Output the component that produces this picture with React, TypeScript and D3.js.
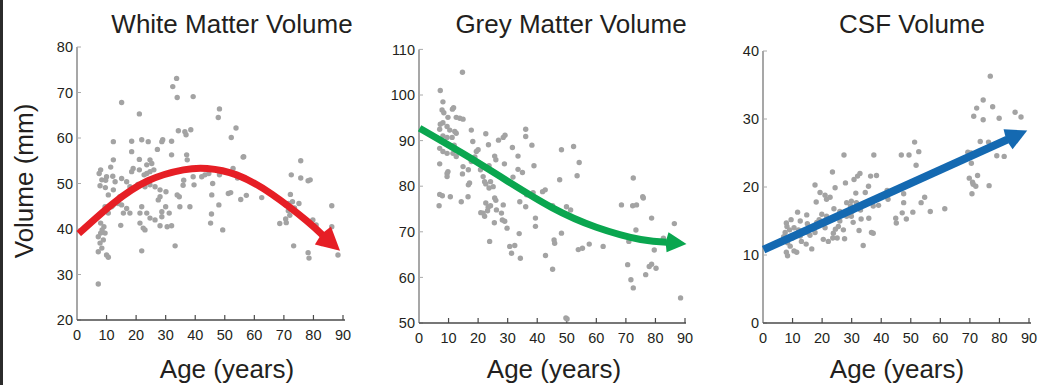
import React from "react";
import * as d3 from "d3";

const ageTicks = [0, 10, 20, 30, 40, 50, 60, 70, 80, 90];
const whiteTicks = [20, 30, 40, 50, 60, 70, 80];
const greyTicks = [50, 60, 70, 80, 90, 100, 110];
const csfTicks = [0, 10, 20, 30, 40];

const titles = ["White Matter Volume", "Grey Matter Volume", "CSF Volume"];
const xAxisTitle = "Age (years)";
const yAxisTitle = "Volume (mm)";

// [age, volume]
const whiteMatter: [number, number][] = [
  [15.1, 67.8], [21.1, 65.3], [12.3, 59.2], [18.5, 59.3], [21.9, 59.6], [24.1, 59.2],
  [29, 59.6], [28.7, 59.2], [32, 59.3], [12.3, 55.2], [18.5, 57], [21.1, 55.3],
  [24.7, 55.2], [25.3, 54.4], [23.6, 54.1], [27.2, 57.5], [8, 53], [7.5, 52.2],
  [8.4, 50.8], [7.8, 49.5], [11.4, 53.6], [10, 51.5], [12.1, 51.6], [12.9, 50.4],
  [15.1, 51.1], [19, 53.3], [18.5, 52.6], [21.1, 53], [22.7, 51.9], [23.6, 52.2],
  [24.7, 52.6], [26, 53], [16.8, 50.4], [17.9, 49.3], [19.3, 48.9], [23, 49.3],
  [24.7, 49.7], [26.4, 49.3], [28.1, 48.6], [30.1, 48.2], [28.1, 47.1], [27.5, 46.4],
  [14.5, 47.1], [12.3, 48.6], [10.6, 47.5], [9.5, 44.9], [11.7, 44.9], [10.6, 43.5],
  [15.1, 45.3], [16.8, 44.5], [15.7, 43.5], [17.9, 43.5], [21.9, 44.9], [21.3, 43.5],
  [23.6, 43.5], [24.7, 42.4], [26.4, 42], [28.7, 43.8], [28.7, 42.7], [31.2, 43.5],
  [21.3, 41.3], [22.4, 40.2], [23, 39.8], [28.1, 40.7], [30.5, 40.5], [32, 40.7],
  [34.6, 47.1], [33.9, 47.5], [34.8, 44.9], [38.2, 44.9], [33.2, 36.3], [21.9, 35.2],
  [14.8, 40.8], [7.2, 38.3], [8, 39.1], [8.9, 37.6], [9.5, 39.1], [7.2, 35],
  [8.4, 35.8], [7.8, 36.9], [10, 34.3], [10.6, 33.8], [7.2, 27.9], [8, 41.3],
  [9.1, 40.5], [8.5, 39.8], [39.3, 51.5], [39.6, 49.7], [42.2, 51.5], [43.3, 51.9],
  [45.6, 47.5], [45.2, 41.3], [45.5, 43.3], [45.9, 50], [37.1, 56.3], [37.3, 55.2],
  [34.3, 61.6], [36.5, 61.4], [36.9, 60.7], [38.5, 61.8], [32.4, 71.3], [33.7, 73.1],
  [33.9, 68.9], [39.3, 69.1], [32, 56.3], [44.6, 52.2], [35.9, 49.6], [36.1, 50.7],
  [20.6, 49.8], [9.6, 49.1], [9.7, 50.7], [13.9, 45.6], [12.2, 45.2], [30, 44.9],
  [48.2, 66.4], [47.8, 64.5], [53.8, 62.2], [52.2, 60.1], [56.2, 55.8], [75.7, 55],
  [48, 45.3], [49.3, 39.8], [48.2, 51.9], [51.2, 47.8], [52.8, 53.3], [54.3, 51.2],
  [57.3, 47.4], [55.4, 46.5], [62.5, 46.9], [68.6, 41.2], [70.6, 42.2], [70.8, 41.4],
  [70.6, 45.3], [71.5, 45.6], [72.9, 46], [72.2, 47.6], [72.5, 51.9], [73.6, 44.6],
  [75.1, 45.6], [75.7, 51.2], [78.2, 50.6], [78.9, 50.8], [73.3, 36.3], [78.2, 34.8],
  [78.5, 33.6], [79.8, 42], [80.9, 40.9], [82.8, 36.8], [86.2, 45.1], [86.2, 40.5],
  [88.3, 34.3], [56.4, 55.9], [52, 48], [71.5, 44], [72, 43],
];

const greyMatter: [number, number][] = [
  [14.7, 105], [7.2, 101], [8.1, 98.5], [7.8, 96.7], [8.4, 96.1], [11.3, 96.9],
  [11.7, 97.2], [9.8, 95.1], [12.6, 95.1], [13.8, 94.9], [14.9, 94.7], [7.2, 93.6],
  [8.1, 93.9], [9.5, 93.1], [7, 92.5], [10.4, 92.3], [12.1, 92], [12.6, 91.6],
  [17.7, 92.3], [8.1, 91], [9.5, 90.7], [11.2, 90.7], [22.6, 91.5], [26.9, 90.1],
  [28.5, 90.7], [29.1, 91.2], [36.1, 92.5], [36.1, 90.9], [38.2, 89], [31.6, 88.5],
  [48.2, 88], [52.3, 88.7], [18.2, 89.8], [23.5, 89.1], [7, 88.3], [8.1, 87.6],
  [9.5, 87.2], [11.9, 89], [11.5, 87.2], [12.6, 86.5], [15.8, 86.8], [16.7, 86.5],
  [19.4, 87.6], [20, 88], [18.2, 86.1], [18.9, 86.4], [17.7, 85.4], [25.6, 86.6],
  [26, 85.8], [33.5, 86.6], [28.9, 84.9], [38.9, 84.5], [54.2, 85.2], [53.5, 82.3],
  [33.5, 83.7], [35, 83], [31.8, 82], [23.7, 84.5], [14.9, 84.3], [14.7, 82.7],
  [16.7, 83.6], [20.6, 85], [20.8, 83.6], [7, 84.9], [9.5, 82.8], [9.8, 83.2],
  [9.5, 82.1], [47.6, 81.4], [72.5, 81.8], [17.1, 80.7], [16.7, 80.3], [21.7, 82.1],
  [22.2, 81], [22.6, 80.5], [24.2, 81], [25.1, 79.9], [23.7, 79.6], [30.1, 81],
  [41.8, 78.8], [42.7, 79.2], [38.6, 78.6], [36.4, 78.1], [36.1, 75.5], [34.1, 76.6],
  [16.6, 77.7], [7, 78.2], [7.9, 77.9], [10.6, 77.7], [6.8, 75.7], [14.3, 76.6],
  [25.6, 77.4], [22.6, 76.3], [23.4, 75.4], [21.7, 74.1], [22.2, 73.4], [20.9, 74.2],
  [23.2, 74.6], [24.2, 75.7], [26, 76.9], [26.2, 74.8], [28.5, 75.9], [27.9, 74.1],
  [28.2, 72.6], [29, 72.3], [25.5, 72], [29.8, 70.8], [39.4, 73], [39.4, 71.2],
  [45.2, 75.7], [49.9, 75.5], [51.3, 74.8], [48.2, 69.7], [45.7, 68.2], [45.9, 67.5],
  [42.8, 64.8], [45.2, 61.8], [33.9, 69.6], [30.7, 66.8], [32.4, 67], [31.3, 65.3],
  [34.3, 64.2], [23.9, 67.9], [49.7, 51.1], [50.1, 50.9], [53.9, 66.1], [55.3, 66.4],
  [57.6, 67.3], [62.3, 66.8], [68.5, 75.9], [72.3, 75.7], [73.6, 75.9], [75.7, 77.7],
  [75.9, 77.4], [73.4, 70.4], [71, 67.9], [70.6, 62.8], [71.7, 59.5], [72.5, 57.7],
  [76.7, 60.6], [77.9, 62.4], [78.7, 62.9], [80.2, 62], [78.7, 73], [82.7, 68.6],
  [86.4, 71.8], [88.5, 55.5], [79.6, 66],
];

const csfVolume: [number, number][] = [
  [76.9, 36.3], [74.5, 32.8], [72.3, 31.6], [77.7, 31.8], [71.3, 30.4], [74.5, 29.9],
  [79.9, 30.1], [85.3, 31], [87.3, 30.3], [73.5, 26.7], [76.3, 26.6], [70.4, 25],
  [69.3, 25.1], [70.5, 23.5], [79.1, 24.6], [81.6, 24.5], [72.6, 21.7], [69.8, 21.3],
  [70.9, 20.7], [71.1, 20.4], [72, 20.1], [76.5, 20.2], [70.7, 19], [51.3, 26.6],
  [46.8, 24.7], [49.4, 24.7], [52.7, 25.2], [51.8, 23.2], [27.4, 24.7], [37.5, 24.7],
  [23.5, 22.2], [32.8, 22], [32, 21.6], [30.8, 21.1], [36.4, 21.6], [38.4, 21.7],
  [27.9, 20.6], [17.6, 20.3], [19.3, 19.2], [35.7, 20.1], [34.6, 19.2], [31.4, 19.1],
  [21, 18.8], [22.7, 18.5], [42, 19.5], [47.6, 19], [54.7, 18.5], [47.6, 17.7],
  [47.1, 16.2], [48.5, 15.3], [44.9, 15.4], [45.1, 14.7], [50.7, 16.3], [53.5, 17.7],
  [56.6, 16.4], [61.5, 16.8], [39.1, 17.3], [37.3, 17.2], [42.3, 18.2], [35.8, 15.4],
  [33.2, 15.3], [36.7, 13.3], [37.3, 13.2], [32.5, 13.6], [33.9, 11.4], [27.6, 12.4],
  [29.6, 17.2], [29.9, 17.9], [29.9, 15.7], [18, 17.8], [21.5, 18.2], [24.4, 19.9],
  [19.9, 16], [21.5, 15.7], [23.2, 15.2], [24.9, 15.7], [26, 16.4], [27.2, 16.2],
  [28.3, 15.7], [20.4, 12.3], [22.1, 12], [23.6, 12.5], [25.1, 12.5], [23.8, 13.2],
  [12.6, 15], [10.5, 14], [12, 13.7], [7.9, 14.7], [8.1, 14.2], [9, 13.7],
  [7.5, 13.3], [7, 12.7], [8.3, 11.8], [9.2, 11.3], [7.9, 10.4], [8.3, 9.9],
  [10.5, 10.6], [11.4, 10.4], [12.6, 12.8], [13.7, 13.6], [15, 13.3], [17.1, 14.2],
  [18.2, 14.8], [11.7, 16.3], [17.6, 13.3], [15.9, 12.9], [21, 14], [27.2, 13.7],
  [25.5, 14.2], [28.3, 17.7], [31.6, 17.7], [30.1, 16.4], [16.5, 10.9], [14.6, 11.6],
  [14.8, 15.9], [15, 14.6], [22, 15], [24, 16.8], [26, 15], [19, 15.2],
  [10, 12.5], [13, 12], [9.5, 15.2], [30.5, 14.8], [33, 16.6], [24.5, 13.8],
];

// trend arrows [age, volume]; the last point is the arrow tip
const whiteTrend: [number, number][] = [
  [0.6, 39], [12, 45.5], [24, 50.6], [36, 53], [44, 53.3], [54, 51.9], [66, 47.6],
  [77.7, 41.8], [89, 35.2],
];
const greyTrend: [number, number][] = [
  [0.2, 92.7], [15, 87.1], [30, 81.1], [45, 75.3], [60, 71], [75, 68.3], [90.5, 67.3],
];
const csfTrend: [number, number][] = [
  [0.2, 10.8], [89.4, 28.3],
];

const FONT = "'Liberation Sans', Arial, Helvetica, sans-serif";

type PanelProps = {
  title: string;
  data: [number, number][];
  trend: [number, number][];
  yTicks: number[];
  x0: number;
  x1: number;
  yBottom: number;
  yTop: number;
  color: string;
  titleX: number;
  xLabelX: number;
  headLen: number;
  headWidth: number;
  lineWidth: number;
  axisEnd: number;
};

function Panel(p: PanelProps) {
  const x = d3.scaleLinear().domain([0, 90]).range([p.x0, p.x1]);
  const y = d3
    .scaleLinear()
    .domain([p.yTicks[0], p.yTicks[p.yTicks.length - 1]])
    .range([p.yBottom, p.yTop]);

  const pts = p.trend.map(([a, v]) => [x(a), y(v)] as [number, number]);
  const n = pts.length;
  const P = pts[n - 1];
  const Q = pts[n - 2];
  const dx = P[0] - Q[0];
  const dy = P[1] - Q[1];
  const len = Math.hypot(dx, dy);
  const ux = dx / len;
  const uy = dy / len;
  const B: [number, number] = [P[0] - ux * p.headLen, P[1] - uy * p.headLen];
  const shaftPts = [...pts.slice(0, n - 1), B];
  const line = d3
    .line<[number, number]>()
    .curve(n > 2 ? d3.curveNatural : d3.curveLinear);
  const shaft = line(shaftPts) || "";
  const px = -uy;
  const py = ux;
  const hw = p.headWidth / 2;
  const Bb: [number, number] = [B[0] + ux * 1, B[1] + uy * 1];
  const head = `M${P[0]},${P[1]}L${Bb[0] + px * hw},${Bb[1] + py * hw}L${B[0] - ux * 1},${B[1] - uy * 1}L${Bb[0] - px * hw},${Bb[1] - py * hw}Z`;

  return (
    <g>
      <text
        x={p.titleX}
        y={33}
        textAnchor="middle"
        fontSize={26}
        fill="#231f20"
        fontFamily={FONT}
      >
        {p.title}
      </text>
      {/* y axis */}
      <line
        x1={p.x0}
        x2={p.x0}
        y1={y.range()[1]}
        y2={p.yBottom}
        stroke="#8a8a8a"
        strokeWidth={1.5}
      />
      {p.yTicks.map((t) => (
        <g key={"y" + t}>
          <line
            x1={p.x0}
            x2={p.x0 + 4}
            y1={y(t)}
            y2={y(t)}
            stroke="#aaa"
            strokeWidth={1}
          />
          <text
            x={p.x0 - 4}
            y={y(t)}
            dy="0.36em"
            textAnchor="end"
            fontSize={14.5}
            fill="#231f20"
            fontFamily={FONT}
          >
            {t}
          </text>
        </g>
      ))}
      {/* x axis */}
      <line
        x1={p.x0}
        x2={p.axisEnd}
        y1={p.yBottom}
        y2={p.yBottom}
        stroke="#4a4a4a"
        strokeWidth={1.5}
      />
      {ageTicks.map((t) => (
        <g key={"x" + t}>
          {t > 0 && (
            <line
              x1={x(t)}
              x2={x(t)}
              y1={p.yBottom}
              y2={p.yBottom - 5}
              stroke="#4a4a4a"
              strokeWidth={1.2}
            />
          )}
          <text
            x={x(t)}
            y={p.yBottom + 20}
            textAnchor="middle"
            fontSize={14.5}
            fill="#231f20"
            fontFamily={FONT}
          >
            {t}
          </text>
        </g>
      ))}
      {p.data.map(([a, v], i) => (
        <circle key={i} cx={x(a)} cy={y(v)} r={2.7} fill="#a3a3a3" />
      ))}
      <path d={shaft} fill="none" stroke={p.color} strokeWidth={p.lineWidth} />
      <path d={head} fill={p.color} />
      <text
        x={p.xLabelX}
        y={378}
        textAnchor="middle"
        fontSize={26}
        fill="#231f20"
        fontFamily={FONT}
      >
        {xAxisTitle}
      </text>
    </g>
  );
}

export default function App() {
  return (
    <svg
      width={1040}
      height={385}
      viewBox="0 0 1040 385"
      style={{ position: "absolute", left: 0, top: 0, background: "#fff" }}
    >
      <rect x={0} y={0} width={1040} height={385} fill="#fff" />
      <rect x={0} y={0} width={3} height={385} fill="#2b2b2b" />
      <Panel
        title={titles[0]}
        data={whiteMatter}
        trend={whiteTrend}
        yTicks={whiteTicks}
        x0={77}
        x1={343}
        yBottom={320}
        yTop={47}
        color="#e61e25"
        titleX={232}
        xLabelX={227}
        headLen={24}
        headWidth={24}
        lineWidth={7}
        axisEnd={345}
      />
      <Panel
        title={titles[1]}
        data={greyMatter}
        trend={greyTrend}
        yTicks={greyTicks}
        x0={419}
        x1={685}
        yBottom={323}
        yTop={49.4}
        color="#0aa64f"
        titleX={571}
        xLabelX={554}
        headLen={20}
        headWidth={20}
        lineWidth={7}
        axisEnd={686}
      />
      <Panel
        title={titles[2]}
        data={csfVolume}
        trend={csfTrend}
        yTicks={csfTicks}
        x0={763}
        x1={1029}
        yBottom={323}
        yTop={51}
        color="#1469b1"
        titleX={912}
        xLabelX={897}
        headLen={22}
        headWidth={22}
        lineWidth={8}
        axisEnd={1031}
      />
      <text
        transform="translate(33,181) rotate(-90)"
        textAnchor="middle"
        fontSize={26}
        fill="#231f20"
        fontFamily={FONT}
      >
        {yAxisTitle}
      </text>
    </svg>
  );
}
